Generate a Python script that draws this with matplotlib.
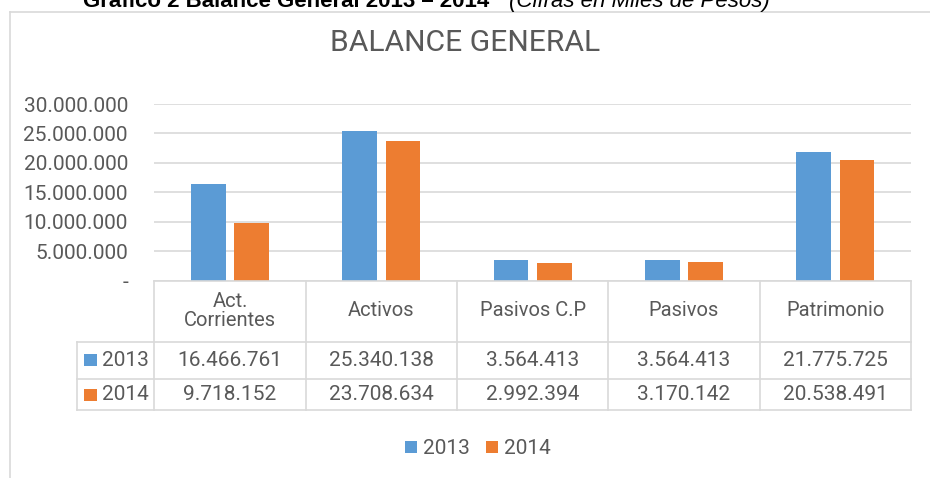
import matplotlib
matplotlib.use("Agg")
import matplotlib.pyplot as plt
from matplotlib import font_manager
from matplotlib.lines import Line2D
from matplotlib.patches import Rectangle
import matplotlib.transforms as mtransforms

# ---------------- data ----------------
categories = ["Act.\nCorrientes", "Activos", "Pasivos C.P", "Pasivos", "Patrimonio"]
series_names = ["2013", "2014"]
values_2013 = [16466761, 25340138, 3564413, 3564413, 21775725]
values_2014 = [9718152, 23708634, 2992394, 3170142, 20538491]
y_ticks = [0, 5000000, 10000000, 15000000, 20000000, 25000000, 30000000]
title = "BALANCE GENERAL"
caption_bold = "Gráfico 2 Balance General 2013 – 2014"
caption_italic = "(Cifras en Miles de Pesos)"

colors = ["#5B9BD5", "#ED7D31"]
TXT = "#595959"
GRID = "#D9D9D9"

installed = {f.name for f in font_manager.fontManager.ttflist}
main_font = "Liberation Sans Narrow" if "Liberation Sans Narrow" in installed else "Roboto"
plt.rcParams["font.family"] = [main_font, "DejaVu Sans"]
narrow = main_font == "Liberation Sans Narrow"

W, H = 930, 478
fig = plt.figure(figsize=(W / 100, H / 100), dpi=100)
fig.patch.set_facecolor("white")


def fx(x):
    return x / W


def fy(y):
    return 1 - y / H


def fmt(v):
    return f"{v:,.0f}".replace(",", ".")


# chart border
fig.add_artist(Line2D([fx(9.5), fx(930)], [fy(12), fy(12)], color=GRID, lw=1.2))
fig.add_artist(Line2D([fx(9.5), fx(9.5)], [fy(12), fy(478)], color=GRID, lw=1.2))

# caption (cut off at top, as in the source page)
fig.text(fx(83), fy(7), caption_bold, family="Liberation Sans", weight="bold",
         fontsize=16, color="black", ha="left", va="baseline")
fig.text(fx(509), fy(7), caption_italic, family="Liberation Sans", style="italic",
         fontsize=16, color="black", ha="left", va="baseline")

# title
fig.text(fx(465), fy(43), title, fontsize=23.5 if narrow else 21.6, color=TXT,
         ha="center", va="center")

FS = 17.5 if narrow else 15
FSH = 17.5 if narrow else 14.5

# plot area
left, right, top, bottom = 154.3, 911, 104, 280.7
ax = fig.add_axes([fx(left), fy(bottom), fx(right - left), (bottom - top) / H])
n = len(categories)
xs = list(range(n))
bw = 0.228
off = 0.143
b1 = ax.bar([x - off for x in xs], values_2013, width=bw, color=colors[0], label=series_names[0], zorder=3)
b2 = ax.bar([x + off for x in xs], values_2014, width=bw, color=colors[1], label=series_names[1], zorder=3)
ax.set_xlim(-0.5, n - 0.5)
ax.set_ylim(0, 30000000)
ax.set_yticks(y_ticks)
ax.set_yticklabels(["-" if v == 0 else fmt(v) for v in y_ticks])
ax.tick_params(axis="y", length=0, pad=19, labelsize=FS, labelcolor=TXT)
ax.tick_params(axis="x", length=0, labelbottom=False)
for s in ax.spines.values():
    s.set_visible(False)
ax.grid(axis="y", color=GRID, lw=1.2, zorder=0)
ax.set_axisbelow(True)

# data table
trans = mtransforms.blended_transform_factory(ax.transData, fig.transFigure)
px_per_unit = (right - left) / n
key_left = -0.5 - (left - 76.7) / px_per_unit
y_axis, y_h, y_r1, y_r2 = bottom, 341.7, 379, 409.5
lw = 1.2
fig.add_artist(Line2D([-0.5, n - 0.5], [fy(y_axis)] * 2, color=GRID, lw=lw, transform=trans))
for yy in (y_h, y_r1, y_r2):
    fig.add_artist(Line2D([key_left, n - 0.5], [fy(yy)] * 2, color=GRID, lw=lw, transform=trans))
for i in range(n + 1):
    fig.add_artist(Line2D([i - 0.5] * 2, [fy(y_axis), fy(y_r2)], color=GRID, lw=lw, transform=trans))
fig.add_artist(Line2D([key_left] * 2, [fy(y_h), fy(y_r2)], color=GRID, lw=lw, transform=trans))

for i, c in enumerate(categories):
    fig.text(i, fy(311), c, transform=trans, ha="center", va="center", fontsize=FSH,
             color=TXT, linespacing=1.05)
row_y = [360, 395]
for r, vals in enumerate([values_2013, values_2014]):
    for i, v in enumerate(vals):
        fig.text(i, fy(row_y[r]), fmt(v), transform=trans, ha="center", va="center",
                 fontsize=FS, color=TXT)
    fig.add_artist(Rectangle((fx(84.3), fy(row_y[r] + 6)), fx(12.3), 12.3 / H,
                             facecolor=colors[r], edgecolor="none"))
    fig.text(fx(102), fy(row_y[r]), series_names[r], ha="left", va="center",
             fontsize=FS, color=TXT)

# legend
leg = fig.legend(handles=[b1, b2], labels=series_names, loc="center",
                 bbox_to_anchor=(fx(478), fy(449)), ncol=2, frameon=False,
                 fontsize=FS, handlelength=0.55, handleheight=0.55,
                 handletextpad=0.3, columnspacing=0.8, labelcolor=TXT)

fig.savefig("out.png", dpi=100, facecolor="white")
